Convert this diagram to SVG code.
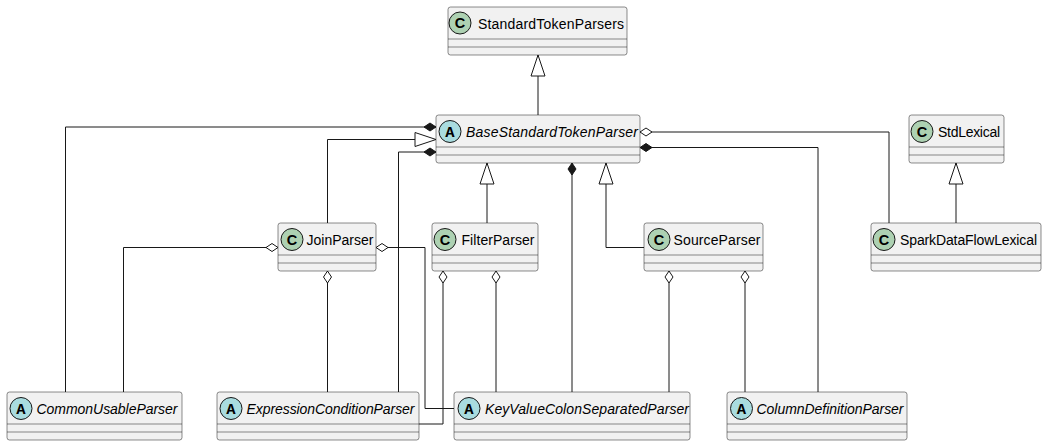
<svg xmlns="http://www.w3.org/2000/svg" width="1047" height="446" viewBox="0 0 1047 446">
<style>
.box{fill:#F1F1F1;stroke:#181818;stroke-width:0.5}
.sep{stroke:#181818;stroke-width:0.5}
.name{font-family:"Liberation Sans",Arial,sans-serif;font-size:14px;fill:#000}
.abs{font-style:italic}
.cc{fill:#ADD1B2;stroke:#181818;stroke-width:1}
.ac{fill:#A9DCDF;stroke:#181818;stroke-width:1}
.cl{font-family:"Liberation Sans",Arial,sans-serif;font-weight:bold;font-size:14.5px;fill:#000;text-anchor:middle}
.al{font-family:"Liberation Mono","Courier New",monospace;font-weight:bold;font-size:15.5px;fill:#000;text-anchor:middle}
.edge{fill:none;stroke:#181818;stroke-width:1}
</style>
<defs>
<marker id="tri" markerUnits="userSpaceOnUse" markerWidth="24" markerHeight="18" viewBox="0 0 24 18" refX="22" refY="9" orient="auto-start-reverse" overflow="visible">
<path d="M1,2 L22,9 L1,16 Z" fill="#FFFFFF" stroke="#181818" stroke-width="1"/>
</marker>
<marker id="fd" markerUnits="userSpaceOnUse" markerWidth="16" markerHeight="12" viewBox="0 0 16 12" refX="14" refY="6" orient="auto-start-reverse" overflow="visible">
<path d="M2,6 L8,2 L14,6 L8,10 Z" fill="#181818" stroke="#181818" stroke-width="1"/>
</marker>
<marker id="hd" markerUnits="userSpaceOnUse" markerWidth="16" markerHeight="12" viewBox="0 0 16 12" refX="14" refY="6" orient="auto-start-reverse" overflow="visible">
<path d="M2,6 L8,2 L14,6 L8,10 Z" fill="#FFFFFF" stroke="#181818" stroke-width="1"/>
</marker>
</defs>
<rect width="1047" height="446" fill="#FFFFFF"/>

<g id="connectors">
<path class="edge" marker-start="url(#tri)" d="M538,55 L538,115"/>
<path class="edge" marker-start="url(#tri)" d="M436,139.5 L327.5,139.5 L327.5,223"/>
<path class="edge" marker-start="url(#tri)" d="M487,163 L487,223"/>
<path class="edge" marker-start="url(#tri)" d="M606,163 L606,247.5 L644,247.5"/>
<path class="edge" marker-start="url(#tri)" d="M956,163 L956,223"/>
<path class="edge" marker-start="url(#fd)" d="M436,127 L65.5,127 L65.5,392"/>
<path class="edge" marker-start="url(#fd)" d="M436,152 L398.5,152 L398.5,392"/>
<path class="edge" marker-start="url(#fd)" d="M572,163 L572,392"/>
<path class="edge" marker-start="url(#fd)" d="M640,147.5 L818,147.5 L818,392"/>
<path class="edge" marker-start="url(#hd)" d="M640,132 L889,132 L889,223"/>
<path class="edge" marker-start="url(#hd)" d="M278,247.5 L123.5,247.5 L123.5,392"/>
<path class="edge" marker-start="url(#hd)" d="M327.5,271 L327.5,392"/>
<path class="edge" marker-start="url(#hd)" d="M376,247.5 L425,247.5 L425,408.5 L454,408.5"/>
<path class="edge" marker-start="url(#hd)" d="M443,271 L443,424 L419,424"/>
<path class="edge" marker-start="url(#hd)" d="M496,271 L496,392"/>
<path class="edge" marker-start="url(#hd)" d="M669,271 L669,392"/>
<path class="edge" marker-start="url(#hd)" d="M745,271 L745,392"/>
</g>

<g id="StandardTokenParsers">
<rect class="box" x="448" y="7" width="179" height="48" rx="2.5"/>
<circle class="cc" cx="460" cy="23" r="11"/><text class="cl" x="460" y="28">C</text>
<text class="name" x="478" y="29" textLength="146">StandardTokenParsers</text>
<line class="sep" x1="448" y1="39" x2="627" y2="39"/><line class="sep" x1="448" y1="47" x2="627" y2="47"/>
</g>

<g id="BaseStandardTokenParser">
<rect class="box" x="436" y="115" width="204" height="48" rx="2.5"/>
<circle class="ac" cx="450" cy="131.5" r="11"/><text class="al" x="450" y="136.5">A</text>
<text class="name abs" x="466" y="137" textLength="172">BaseStandardTokenParser</text>
<line class="sep" x1="436" y1="147" x2="640" y2="147"/><line class="sep" x1="436" y1="155" x2="640" y2="155"/>
</g>

<g id="StdLexical">
<rect class="box" x="909" y="115" width="95" height="48" rx="2.5"/>
<circle class="cc" cx="922" cy="131.5" r="11"/><text class="cl" x="922" y="136.5">C</text>
<text class="name" x="938" y="137" textLength="62">StdLexical</text>
<line class="sep" x1="909" y1="147" x2="1004" y2="147"/><line class="sep" x1="909" y1="155" x2="1004" y2="155"/>
</g>

<g id="JoinParser">
<rect class="box" x="278" y="223" width="98" height="48" rx="2.5"/>
<circle class="cc" cx="292" cy="239.5" r="11"/><text class="cl" x="292" y="244.5">C</text>
<text class="name" x="306.5" y="245" textLength="67">JoinParser</text>
<line class="sep" x1="278" y1="255" x2="376" y2="255"/><line class="sep" x1="278" y1="263" x2="376" y2="263"/>
</g>

<g id="FilterParser">
<rect class="box" x="432" y="223" width="106" height="48" rx="2.5"/>
<circle class="cc" cx="445" cy="239.5" r="11"/><text class="cl" x="445" y="244.5">C</text>
<text class="name" x="461.5" y="245" textLength="73">FilterParser</text>
<line class="sep" x1="432" y1="255" x2="538" y2="255"/><line class="sep" x1="432" y1="263" x2="538" y2="263"/>
</g>

<g id="SourceParser">
<rect class="box" x="644" y="223" width="119" height="48" rx="2.5"/>
<circle class="cc" cx="659" cy="239.5" r="11"/><text class="cl" x="659" y="244.5">C</text>
<text class="name" x="673.5" y="245" textLength="87">SourceParser</text>
<line class="sep" x1="644" y1="255" x2="763" y2="255"/><line class="sep" x1="644" y1="263" x2="763" y2="263"/>
</g>

<g id="SparkDataFlowLexical">
<rect class="box" x="871" y="223" width="170" height="48" rx="2.5"/>
<circle class="cc" cx="884" cy="239.5" r="11"/><text class="cl" x="884" y="244.5">C</text>
<text class="name" x="900" y="245" textLength="137">SparkDataFlowLexical</text>
<line class="sep" x1="871" y1="255" x2="1041" y2="255"/><line class="sep" x1="871" y1="263" x2="1041" y2="263"/>
</g>

<g id="CommonUsableParser">
<rect class="box" x="7" y="392" width="175" height="48" rx="2.5"/>
<circle class="ac" cx="21" cy="408.5" r="11"/><text class="al" x="21" y="413.5">A</text>
<text class="name abs" x="36.5" y="414" textLength="141">CommonUsableParser</text>
<line class="sep" x1="7" y1="424" x2="182" y2="424"/><line class="sep" x1="7" y1="432" x2="182" y2="432"/>
</g>

<g id="ExpressionConditionParser">
<rect class="box" x="217" y="392" width="202" height="48" rx="2.5"/>
<circle class="ac" cx="231" cy="408.5" r="11"/><text class="al" x="231" y="413.5">A</text>
<text class="name abs" x="246.5" y="414" textLength="168">ExpressionConditionParser</text>
<line class="sep" x1="217" y1="424" x2="419" y2="424"/><line class="sep" x1="217" y1="432" x2="419" y2="432"/>
</g>

<g id="KeyValueColonSeparatedParser">
<rect class="box" x="454" y="392" width="236" height="48" rx="2.5"/>
<circle class="ac" cx="469" cy="408.5" r="11"/><text class="al" x="469" y="413.5">A</text>
<text class="name abs" x="485" y="414" textLength="204">KeyValueColonSeparatedParser</text>
<line class="sep" x1="454" y1="424" x2="690" y2="424"/><line class="sep" x1="454" y1="432" x2="690" y2="432"/>
</g>

<g id="ColumnDefinitionParser">
<rect class="box" x="727" y="392" width="180" height="48" rx="2.5"/>
<circle class="ac" cx="741.5" cy="408.5" r="11"/><text class="al" x="741.5" y="413.5">A</text>
<text class="name abs" x="756.5" y="414" textLength="147">ColumnDefinitionParser</text>
<line class="sep" x1="727" y1="424" x2="907" y2="424"/><line class="sep" x1="727" y1="432" x2="907" y2="432"/>
</g>
</svg>
